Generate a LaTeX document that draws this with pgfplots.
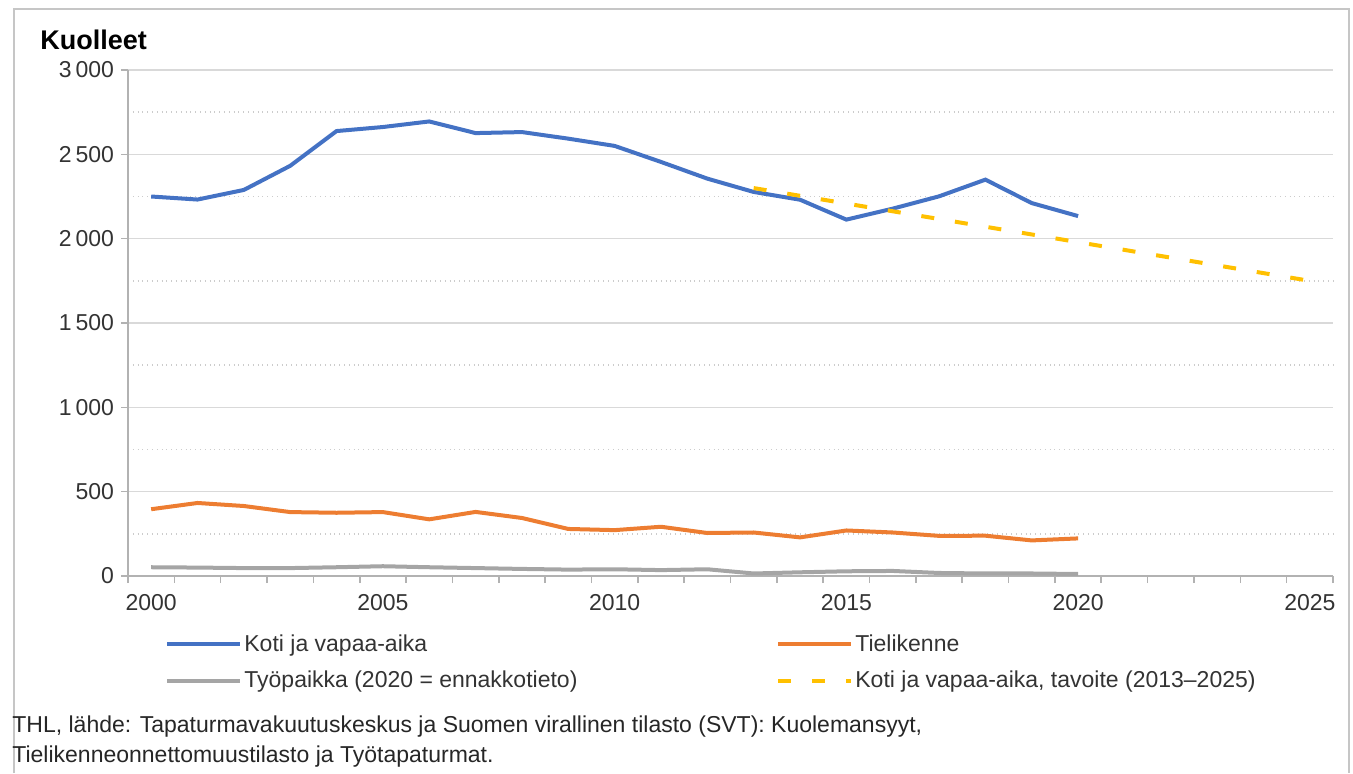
\documentclass[border=0pt]{standalone}
\usepackage{fontspec}
\setmainfont{Liberation Sans}
\usepackage{pgfplots}
\pgfplotsset{compat=1.18}
\definecolor{cblue}{HTML}{4472C4}
\definecolor{corange}{HTML}{ED7D31}
\definecolor{cgray}{HTML}{A5A5A5}
\definecolor{cyellow}{HTML}{FFC000}
\begin{document}
\begin{tikzpicture}
\path[use as bounding box] (-64pt,-98.5pt) rectangle (612.5pt,288pt);
\draw[gray!45, line width=0.8pt] (-57pt,-98.5pt) -- (-57pt,283.5pt) -- (610.5pt,283.5pt) -- (610.5pt,-98.5pt);
\begin{axis}[at={(0pt,0pt)}, anchor=south west, scale only axis,
  width=602.5pt, height=253pt,
  xmin=1999.5, xmax=2025.5, ymin=0, ymax=3000,
  axis x line*=bottom, axis y line*=left,
  axis line style={gray!60, line width=0.8pt},
  xtick={1999.5,2000.5,...,2025.5}, xticklabel={\mbox{}},
  extra x ticks={2000,2005,2010,2015,2020,2025},
  extra x tick labels={2000,2005,2010,2015,2020,2025},
  extra x tick style={major tick length=0pt},
  ytick={0,500,...,3000},
  yticklabels={0,500,1\,000,1\,500,2\,000,2\,500,3\,000},
  minor ytick={250,750,...,2750}, minor tick length=0pt,
  ymajorgrids, yminorgrids,
  major grid style={gray!30, line width=0.8pt},
  minor grid style={gray!40, dotted, line width=0.8pt},
  tick align=outside, major tick length=3.5pt,
  tick style={gray!60, line width=0.8pt},
  ticklabel style={font=\fontsize{11.5}{13}\selectfont, text=black!80},
  xticklabel shift=5.5pt,
  legend columns=2,
  legend cell align=left,
  legend style={at={(0.0307,-0.111)}, anchor=north west, draw=none, fill=none,
    inner sep=0pt, font=\fontsize{11.5}{13}\selectfont, row sep=6.5pt,
    nodes={inner sep=1pt, text=black!80}},
  legend image code/.code={\draw[#1] (0pt,0pt) -- (36.5pt,0pt);},
]
\addplot[cblue, line width=2pt] coordinates {
(2000,2250) (2001,2232) (2002,2289) (2003,2432) (2004,2638) (2005,2662)
(2006,2695) (2007,2626) (2008,2632) (2009,2593) (2010,2550) (2011,2455)
(2012,2356) (2013,2277) (2014,2231) (2015,2113) (2016,2178) (2017,2251)
(2018,2350) (2019,2211) (2020,2134)};
\addlegendentry{\makebox[265pt][l]{Koti ja vapaa-aika}}
\addplot[corange, line width=2pt] coordinates {
(2000,396) (2001,433) (2002,415) (2003,379) (2004,375) (2005,379)
(2006,336) (2007,380) (2008,344) (2009,279) (2010,272) (2011,292)
(2012,255) (2013,258) (2014,229) (2015,270) (2016,258) (2017,238)
(2018,239) (2019,211) (2020,223)};
\addlegendentry{Tielikenne}
\addplot[cgray, line width=2pt] coordinates {
(2000,52) (2001,50) (2002,47) (2003,47) (2004,52) (2005,58)
(2006,52) (2007,47) (2008,42) (2009,38) (2010,40) (2011,35)
(2012,40) (2013,15) (2014,22) (2015,28) (2016,30) (2017,18)
(2018,15) (2019,15) (2020,12)};
\addlegendentry{\makebox[265pt][l]{Työpaikka (2020 = ennakkotieto)}}
\addplot[cyellow, line width=2pt, dash pattern=on 6.5pt off 10.5pt] coordinates {
(2013,2300) (2025,1750)};
\addlegendentry{Koti ja vapaa-aika, tavoite (2013–2025)}
\end{axis}
\node[anchor=west, inner sep=0pt, font=\bfseries\fontsize{13.5}{16}\selectfont] at (-44pt,268pt) {Kuolleet};
\node[anchor=north west, align=left, inner sep=0pt, text=black!85,
  font=\fontsize{11.5}{15}\selectfont] at (-58pt,-69.5pt)
  {THL, lähde: Tapaturmavakuutuskeskus ja Suomen virallinen tilasto (SVT): Kuolemansyyt,\\
   Tielikenneonnettomuustilasto ja Työtapaturmat.};
\end{tikzpicture}
\end{document}
